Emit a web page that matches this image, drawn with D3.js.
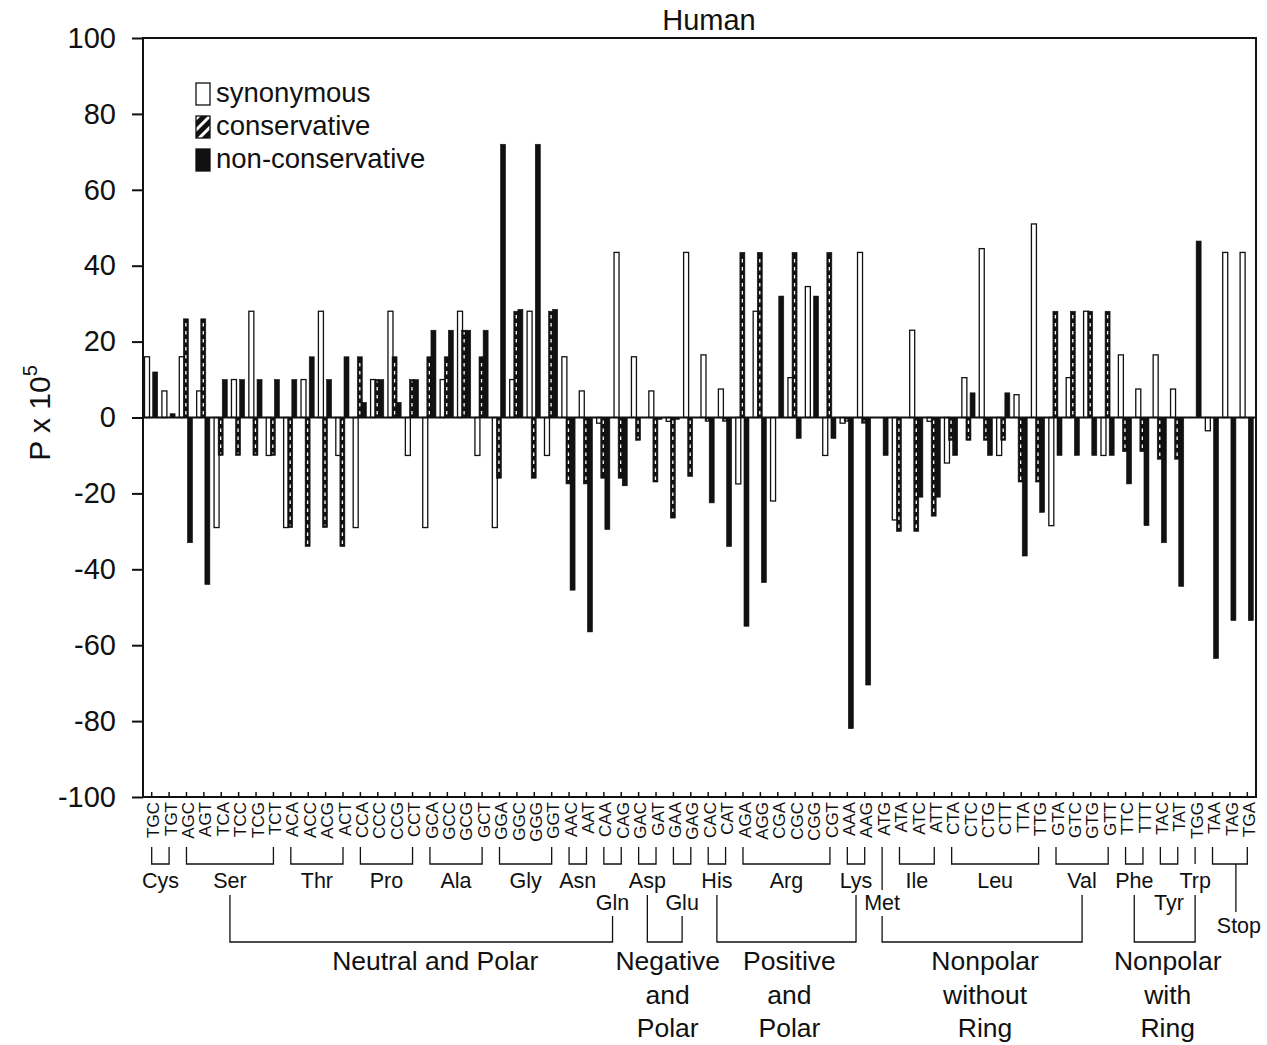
<!DOCTYPE html>
<html>
<head>
<meta charset="utf-8">
<script src="https://cdn.jsdelivr.net/npm/d3@7"></script>
<style>
body { margin: 0; background: #fff; }
text { font-family: "Liberation Sans", Arial, Helvetica, sans-serif; fill: #111; }
</style>
</head>
<body>
<div id="chart"></div>
<script>
// data
const CODONS = ["TGC","TGT","AGC","AGT","TCA","TCC","TCG","TCT","ACA","ACC","ACG","ACT",
  "CCA","CCC","CCG","CCT","GCA","GCC","GCG","GCT","GGA","GGC","GGG","GGT","AAC","AAT",
  "CAA","CAG","GAC","GAT","GAA","GAG","CAC","CAT","AGA","AGG","CGA","CGC","CGG","CGT",
  "AAA","AAG","ATG","ATA","ATC","ATT","CTA","CTC","CTG","CTT","TTA","TTG","GTA","GTC",
  "GTG","GTT","TTC","TTT","TAC","TAT","TGG","TAA","TAG","TGA"];

const SYNONYMOUS = [16, 7, 16, 7, -29, 10, 28, -10, -29, 10, 28, -10,
  -29, 10, 28, -10, -29, 10, 28, -10, -29, 10, 28, -10, 16, 7,
  -1.5, 43.5, 16, 7, -1, 43.5, 16.5, 7.5, -17.5, 28, -22, 10.5, 34.5, -10,
  -1.5, 43.5, 0, -27, 23, -1, -12, 10.5, 44.5, -10, 6, 51, -28.5, 10.5,
  28, -10, 16.5, 7.5, 16.5, 7.5, 0, -3.5, 43.5, 43.5];

const CONSERVATIVE = [0, 0, 26, 26, -10, -10, -10, -10, -29, -34, -29, -34,
  16, 10, 16, 10, 16, 16, 23, 16, -16, 28, -16, 28, -17.5, -17.5,
  -16, -16, -6, -17, -26.5, -15.5, -1, -1, 43.5, 43.5, 0, 43.5, 0, 43.5,
  -1, -1.5, 0, -30, -30, -26, -6, -6, -6, -6, -17, -17, 28, 28,
  28, 28, -9, -9, -11, -11, 0, 0, 0, 0];

const NON_CONSERVATIVE = [12, 1, -33, -44, 10, 10, 10, 10, 10, 16, 10, 16,
  4, 10, 4, 10, 23, 23, 23, 23, 72, 28.5, 72, 28.5, -45.5, -56.5,
  -29.5, -18, 0, -0.5, -0.5, 0, -22.5, -34, -55, -43.5, 32, -5.5, 32, -5.5,
  -82, -70.5, -10, 0, -21, -21, -10, 6.5, -10, 6.5, -36.5, -25, -10, -10,
  -10, -10, -17.5, -28.5, -33, -44.5, 46.5, -63.5, -53.5, -53.5];

const SERIES = ["synonymous", "conservative", "non-conservative"];
const Y_TICKS = [-100, -80, -60, -40, -20, 0, 20, 40, 60, 80, 100];

const AMINO_ACIDS = ["Cys","Ser","Thr","Pro","Ala","Gly","Asn","Gln","Asp","Glu","His",
  "Arg","Lys","Met","Ile","Leu","Val","Phe","Tyr","Trp","Stop"];
const CODON_COUNTS = [2,6,4,4,4,4,2,2,2,2,2,6,2,1,3,6,4,2,2,1,3];
const SECOND_ROW = ["Gln","Glu","Met","Tyr"];

const CLASS_LINES = [["Neutral and Polar"], ["Negative","and","Polar"], ["Positive","and","Polar"],
  ["Nonpolar","without","Ring"], ["Nonpolar","with","Ring"]];
const CLASS_ENDS = [["Ser","Gln"], ["Asp","Glu"], ["His","Lys"], ["Met","Val"], ["Phe","Trp"]];

// frame constants
const FRAME_WIDTH = 1267;
const FRAME_HEIGHT = 1045;
const PLOT = {left: 143, right: 1256, top: 38, bottom: 797};
const INK = "#111";

const svg = d3.select("#chart")
  .append("svg")
  .attr("width", FRAME_WIDTH)
  .attr("height", FRAME_HEIGHT);

const defs = svg.append("defs");
const hatch = defs.append("pattern")
  .attr("id", "hatch")
  .attr("patternUnits", "userSpaceOnUse")
  .attr("width", 8).attr("height", 8)
  .attr("patternTransform", "rotate(45)");
hatch.append("rect").attr("width", 8).attr("height", 8).attr("fill", "#fff");
hatch.append("rect").attr("width", 5).attr("height", 8).attr("fill", INK);

// scales
const x = d3.scaleBand().domain(CODONS).range([PLOT.left, PLOT.right]);
const y = d3.scaleLinear().domain([-100, 100]).range([PLOT.bottom, PLOT.top]);
const center = (c) => x(c) + x.bandwidth() / 2;

// title
svg.append("text")
  .attr("x", 709).attr("y", 30)
  .attr("text-anchor", "middle")
  .attr("font-size", 29)
  .text("Human");

// y axis
const yAxis = svg.append("g")
  .attr("transform", "translate(" + PLOT.left + ",0)")
  .call(d3.axisLeft(y).tickValues(Y_TICKS).tickSize(11).tickPadding(16)
    .tickFormat((d) => String(d)));
yAxis.select(".domain").remove();
yAxis.selectAll("line").attr("stroke", INK).attr("stroke-width", 2);
yAxis.selectAll("text")
  .attr("font-size", 29)
  .attr("font-family", "'Liberation Sans', Arial, sans-serif")
  .attr("fill", INK);

// y axis title  P x 10^5
const yTitle = svg.append("text")
  .attr("transform", "translate(50,413) rotate(-90)")
  .attr("text-anchor", "middle")
  .attr("font-size", 30);
yTitle.append("tspan").text("P x 10");
yTitle.append("tspan").attr("dy", -13).attr("font-size", 20).text("5");

// x axis ticks and codon labels
const xAxis = svg.append("g")
  .attr("transform", "translate(0," + PLOT.bottom + ")")
  .call(d3.axisBottom(x).tickSize(-5).tickPadding(5));
xAxis.select(".domain").remove();
xAxis.selectAll("line").attr("stroke", INK).attr("stroke-width", 1.5);
xAxis.selectAll("text")
  .attr("font-size", 17)
  .attr("font-family", "'Liberation Sans', Arial, sans-serif")
  .attr("fill", INK)
  .attr("text-anchor", "end")
  .attr("x", -5).attr("y", 1.5).attr("dy", "0.36em")
  .attr("transform", "rotate(-90)");

// bars
const BAR_W = 5;
const barData = [];
CODONS.forEach((c, i) => {
  [SYNONYMOUS[i], CONSERVATIVE[i], NON_CONSERVATIVE[i]].forEach((v, s) => {
    if (v !== 0) barData.push({codon: c, series: SERIES[s], slot: s, value: v});
  });
});

const bars = svg.append("g");
bars.selectAll("rect")
  .data(barData)
  .enter()
  .append("rect")
  .attr("x", (d) => x(d.codon) + 1.5 + d.slot * 4.1)
  .attr("y", (d) => y(Math.max(0, d.value)))
  .attr("width", BAR_W)
  .attr("height", (d) => Math.abs(y(d.value) - y(0)))
  .attr("fill", (d) => d.series === "synonymous" ? "#fff" : INK)
  .attr("stroke", INK)
  .attr("stroke-width", (d) => d.series === "synonymous" ? 1.3 : 0.6);

// white dashes inside conservative bars
bars.selectAll("line")
  .data(barData.filter((d) => d.series === "conservative"))
  .enter()
  .append("line")
  .attr("x1", (d) => x(d.codon) + 1.5 + d.slot * 4.1 + BAR_W / 2)
  .attr("x2", (d) => x(d.codon) + 1.5 + d.slot * 4.1 + BAR_W / 2)
  .attr("y1", (d) => y(0) + (d.value > 0 ? -3 : 3))
  .attr("y2", (d) => y(d.value) + (d.value > 0 ? 2 : -2))
  .attr("stroke", "#fff")
  .attr("stroke-width", 1.3)
  .attr("stroke-dasharray", "3.5,4.5");

// zero line and frame
svg.append("line")
  .attr("x1", PLOT.left).attr("x2", PLOT.right)
  .attr("y1", y(0)).attr("y2", y(0))
  .attr("stroke", INK).attr("stroke-width", 1.8);
svg.append("rect")
  .attr("x", PLOT.left).attr("y", PLOT.top)
  .attr("width", PLOT.right - PLOT.left)
  .attr("height", PLOT.bottom - PLOT.top)
  .attr("fill", "none")
  .attr("stroke", INK)
  .attr("stroke-width", 2);

// legend
const legend = svg.append("g");
const legendFill = ["#fff", "url(#hatch)", INK];
SERIES.forEach((name, i) => {
  legend.append("rect")
    .attr("x", 196).attr("y", 83 + i * 33)
    .attr("width", 14).attr("height", 22)
    .attr("fill", legendFill[i])
    .attr("stroke", INK).attr("stroke-width", 1.3);
  legend.append("text")
    .attr("x", 216).attr("y", 102 + i * 33)
    .attr("font-size", 27.5)
    .text(name);
});

// amino acid brackets
const aaPos = {};
let start = 0;
AMINO_ACIDS.forEach((aa, i) => {
  const first = CODONS[start];
  const last = CODONS[start + CODON_COUNTS[i] - 1];
  aaPos[aa] = {x1: center(first), x2: center(last), mid: (center(first) + center(last)) / 2};
  start += CODON_COUNTS[i];
});

const BR_TOP = 847, BR_Y = 864;
const brackets = svg.append("g")
  .attr("fill", "none")
  .attr("stroke", INK)
  .attr("stroke-width", 1.3);

AMINO_ACIDS.forEach((aa, i) => {
  const p = aaPos[aa];
  let baseline = SECOND_ROW.includes(aa) ? 910 : 888;
  if (CODON_COUNTS[i] > 1) {
    brackets.append("path")
      .attr("d", "M" + p.x1 + "," + BR_TOP + "V" + BR_Y + "H" + p.x2 + "V" + BR_TOP);
  } else {
    brackets.append("path")
      .attr("d", "M" + p.x1 + "," + BR_TOP + "V" + (aa === "Met" ? 890 : BR_Y));
  }
  if (aa === "Stop") {
    brackets.append("path").attr("d", "M" + (p.mid + 6) + "," + BR_Y + "V912");
    baseline = 933;
  }
  svg.append("text")
    .attr("x", aa === "Stop" ? p.mid + 9 : p.mid)
    .attr("y", baseline)
    .attr("text-anchor", "middle")
    .attr("font-size", 21.5)
    .text(aa);
});

// property class brackets
const CLASS_Y = 942;
CLASS_ENDS.forEach((ends, i) => {
  const a = aaPos[ends[0]].mid;
  const b = aaPos[ends[1]].mid;
  const ya = SECOND_ROW.includes(ends[0]) ? 916 : 895;
  const yb = SECOND_ROW.includes(ends[1]) ? 916 : 895;
  brackets.append("path")
    .attr("d", "M" + a + "," + ya + "V" + CLASS_Y + "H" + b + "V" + yb);
  // the single-line label sits a little right of its bracket middle
  const lx = (a + b) / 2 + (CLASS_LINES[i].length === 1 ? 14 : 3);
  const label = svg.append("text")
    .attr("text-anchor", "middle")
    .attr("font-size", 26.5);
  CLASS_LINES[i].forEach((line, j) => {
    label.append("tspan")
      .attr("x", lx)
      .attr("y", 970 + j * 33.5)
      .text(line);
  });
});
</script>
</body>
</html>
